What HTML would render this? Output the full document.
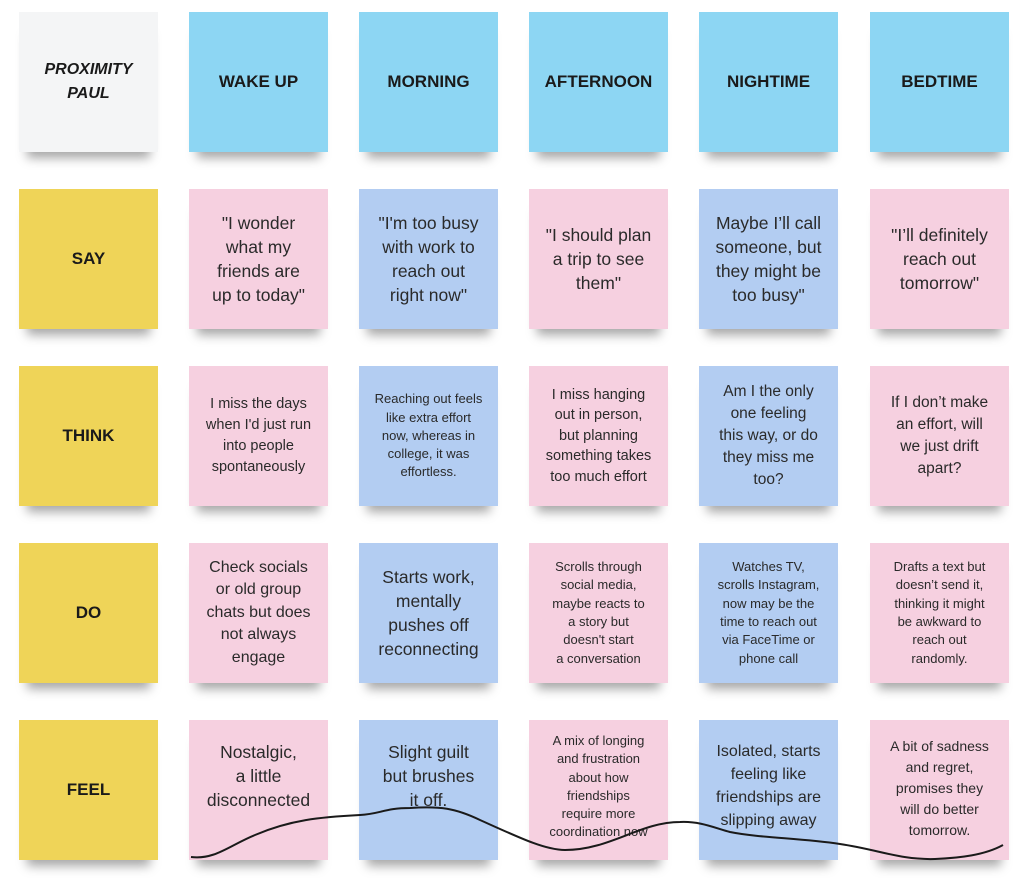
<!DOCTYPE html>
<html><head><meta charset="utf-8"><style>
body{margin:0;width:1024px;height:886px;background:#fff;position:relative;overflow:hidden;font-family:"Liberation Sans",sans-serif;}
.c{position:absolute;width:139px;height:140px;display:flex;align-items:center;justify-content:center;text-align:center;color:#2a2a2a;box-shadow:0 14px 10px -8px rgba(0,0,0,0.35);box-sizing:border-box;white-space:nowrap;}
.h{background:#8dd6f3;font-weight:bold;font-size:17px;color:#1a1a1a;}
.w{background:#f4f5f6;font-weight:bold;font-style:italic;font-size:16px;line-height:24px;color:#1a1a1a;}
.y{background:#efd458;font-weight:bold;font-size:17px;color:#1a1a1a;}
.p{background:#f6d0e0;}
.b{background:#b3cdf2;}
.l{font-size:17.5px;line-height:24px;}
.m{font-size:15.5px;line-height:22px;}
.s{font-size:13px;line-height:18.3px;}
.t{align-items:flex-start;}
</style></head><body>
<div class="c w" style="left:19px;top:12px">PROXIMITY<br>PAUL</div>
<div class="c h" style="left:189px;top:12px">WAKE UP</div>
<div class="c h" style="left:359px;top:12px">MORNING</div>
<div class="c h" style="left:529px;top:12px">AFTERNOON</div>
<div class="c h" style="left:699px;top:12px">NIGHTIME</div>
<div class="c h" style="left:870px;top:12px">BEDTIME</div>

<div class="c y" style="left:19px;top:189px">SAY</div>
<div class="c p l" style="left:189px;top:189px">"I wonder<br>what my<br>friends are<br>up to today"</div>
<div class="c b l" style="left:359px;top:189px">"I'm too busy<br>with work to<br>reach out<br>right now"</div>
<div class="c p l" style="left:529px;top:189px">"I should plan<br>a trip to see<br>them"</div>
<div class="c b l" style="left:699px;top:189px">Maybe I’ll call<br>someone, but<br>they might be<br>too busy"</div>
<div class="c p l" style="left:870px;top:189px">"I’ll definitely<br>reach out<br>tomorrow"</div>

<div class="c y" style="left:19px;top:366px">THINK</div>
<div class="c p" style="left:189px;top:366px;font-size:14.5px;line-height:21px">I miss the days<br>when I'd just run<br>into people<br>spontaneously</div>
<div class="c b s" style="left:359px;top:366px">Reaching out feels<br>like extra effort<br>now, whereas in<br>college, it was<br>effortless.</div>
<div class="c p" style="left:529px;top:366px;font-size:14.5px;line-height:20.5px">I miss hanging<br>out in person,<br>but planning<br>something takes<br>too much effort</div>
<div class="c b m" style="left:699px;top:366px">Am I the only<br>one feeling<br>this way, or do<br>they miss me<br>too?</div>
<div class="c p m" style="left:870px;top:366px">If I don’t make<br>an effort, will<br>we just drift<br>apart?</div>

<div class="c y" style="left:19px;top:543px">DO</div>
<div class="c p" style="left:189px;top:543px;font-size:16px;line-height:22.5px">Check socials<br>or old group<br>chats but does<br>not always<br>engage</div>
<div class="c b l" style="left:359px;top:543px">Starts work,<br>mentally<br>pushes off<br>reconnecting</div>
<div class="c p s" style="left:529px;top:543px">Scrolls through<br>social media,<br>maybe reacts to<br>a story but<br>doesn't start<br>a conversation</div>
<div class="c b s" style="left:699px;top:543px">Watches TV,<br>scrolls Instagram,<br>now may be the<br>time to reach out<br>via FaceTime or<br>phone call</div>
<div class="c p s" style="left:870px;top:543px">Drafts a text but<br>doesn’t send it,<br>thinking it might<br>be awkward to<br>reach out<br>randomly.</div>

<div class="c y" style="left:19px;top:720px">FEEL</div>
<div class="c p l t" style="left:189px;top:720px;padding-top:20px">Nostalgic,<br>a little<br>disconnected</div>
<div class="c b l t" style="left:359px;top:720px;padding-top:20px">Slight guilt<br>but brushes<br>it off.</div>
<div class="c p s t" style="left:529px;top:720px;padding-top:12px">A mix of longing<br>and frustration<br>about how<br>friendships<br>require more<br>coordination now</div>
<div class="c b t" style="left:699px;top:720px;padding-top:20px;font-size:16px;line-height:23px">Isolated, starts<br>feeling like<br>friendships are<br>slipping away</div>
<div class="c p t" style="left:870px;top:720px;padding-top:16px;font-size:14px;line-height:21px">A bit of sadness<br>and regret,<br>promises they<br>will do better<br>tomorrow.</div>

<svg style="position:absolute;left:0;top:0" width="1024" height="886">
<path d="M191,857 C215,860 230,845 255,835 C290,820 320,817 360,815 C380,814 385,808 410,808 C440,806 455,808 480,820 C520,838 545,850 565,850 C610,850 640,822 680,822 C700,821 715,828 730,832 C760,838 800,838 840,844 C880,850 900,860 935,859 C960,858 985,855 1003,845" fill="none" stroke="#1a1a1a" stroke-width="2"/>
</svg>
</body></html>
